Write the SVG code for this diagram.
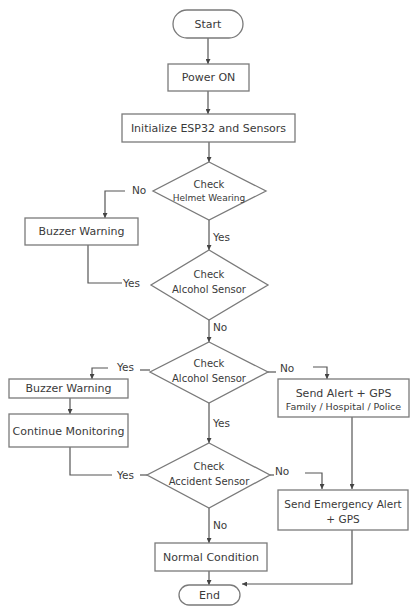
<svg xmlns="http://www.w3.org/2000/svg" width="417" height="606" viewBox="0 0 417 606">
<style>
.box{fill:#fff;stroke:#7a7a7a;stroke-width:1.3}
.t{font-family:"DejaVu Sans",Verdana,sans-serif;fill:#3a3a3a;text-anchor:middle;dominant-baseline:central}
.m{font-size:11px}
.e{font-size:10.5px}
.d{font-size:10px}
.s{font-size:9px}
.f{font-size:9.5px}
.lbl{font-family:"DejaVu Sans",Verdana,sans-serif;fill:#3a3a3a;font-size:10.5px;dominant-baseline:central}
.ln{fill:none;stroke:#555;stroke-width:1.2}
</style>
<defs>
<marker id="ah" viewBox="0 0 6 6" refX="6" refY="3" markerWidth="5" markerHeight="5" markerUnits="userSpaceOnUse" orient="auto">
<path d="M0,0 L6,3 L0,6 z" fill="#444"/>
</marker>
</defs>
<rect width="417" height="606" fill="#fff"/>
<g id="connectors">
<path class="ln" d="M208,38 V64" marker-end="url(#ah)"/>
<path class="ln" d="M208,91 V114" marker-end="url(#ah)"/>
<path class="ln" d="M209,142 V162" marker-end="url(#ah)"/>
<path class="ln" d="M125,191 H105 V218" marker-end="url(#ah)"/>
<path class="ln" d="M209,220 V250" marker-end="url(#ah)"/>
<path class="ln" d="M88,245 V283 H122"/>
<path class="ln" d="M209,320 V342" marker-end="url(#ah)"/>
<path class="ln" d="M140,370 H150"/>
<path class="ln" d="M108,368 H92 V379" marker-end="url(#ah)"/>
<path class="ln" d="M268,372 H276"/>
<path class="ln" d="M313,367 H327 V379" marker-end="url(#ah)"/>
<path class="ln" d="M70,398 V414" marker-end="url(#ah)"/>
<path class="ln" d="M209,403 V443" marker-end="url(#ah)"/>
<path class="ln" d="M70,447 V475 H112"/>
<path class="ln" d="M140,475 H147"/>
<path class="ln" d="M270,475 H274"/>
<path class="ln" d="M305,473 H322 V489" marker-end="url(#ah)"/>
<path class="ln" d="M352,417 V489" marker-end="url(#ah)"/>
<path class="ln" d="M209,508 V543" marker-end="url(#ah)"/>
<path class="ln" d="M209,571 V585" marker-end="url(#ah)"/>
<path class="ln" d="M352,530 V584 H242" marker-end="url(#ah)"/>
</g>
<g id="labels">
<text class="lbl" x="132" y="190">No</text>
<text class="lbl" x="213" y="237">Yes</text>
<text class="lbl" x="123" y="283">Yes</text>
<text class="lbl" x="213" y="327">No</text>
<text class="lbl" x="117" y="367">Yes</text>
<text class="lbl" x="280" y="368">No</text>
<text class="lbl" x="213" y="423">Yes</text>
<text class="lbl" x="117" y="475">Yes</text>
<text class="lbl" x="275" y="471">No</text>
<text class="lbl" x="213" y="525">No</text>
</g>
<g id="start">
<rect class="box" x="173" y="10" width="70" height="28" rx="14"/>
<text class="t m" x="208" y="24">Start</text>
</g>
<g id="power">
<rect class="box" x="168" y="64" width="81" height="27"/>
<text class="t m" x="208.5" y="77.5">Power ON</text>
</g>
<g id="init">
<rect class="box" x="122" y="114" width="173" height="28"/>
<text class="t m" x="208.5" y="128">Initialize ESP32 and Sensors</text>
</g>
<g id="helmet">
<polygon class="box" points="209,162 266,191 209,220 153,191"/>
<text class="t d" x="209" y="184">Check</text>
<text class="t s" x="209" y="198">Helmet Wearing</text>
</g>
<g id="buzzer1">
<rect class="box" x="25" y="218" width="113" height="27"/>
<text class="t m" x="81.5" y="231.5">Buzzer Warning</text>
</g>
<g id="alcohol1">
<polygon class="box" points="209,250 268,285 209,320 151,285"/>
<text class="t d" x="209" y="274">Check</text>
<text class="t d" x="209" y="289">Alcohol Sensor</text>
</g>
<g id="alcohol2">
<polygon class="box" points="209,342 268,372 209,403 150,372"/>
<text class="t d" x="209" y="363">Check</text>
<text class="t d" x="209" y="378">Alcohol Sensor</text>
</g>
<g id="buzzer2">
<rect class="box" x="9" y="379" width="119" height="19"/>
<text class="t m" x="68.5" y="388.5">Buzzer Warning</text>
</g>
<g id="monitor">
<rect class="box" x="9" y="414" width="119" height="33"/>
<text class="t m" x="68.5" y="431">Continue Monitoring</text>
</g>
<g id="sendalert">
<rect class="box" x="278" y="379" width="131" height="38"/>
<text class="t m" x="343.5" y="393">Send Alert + GPS</text>
<text class="t f" x="343.5" y="406">Family / Hospital / Police</text>
</g>
<g id="accident">
<polygon class="box" points="209,443 270,475 209,508 147,475"/>
<text class="t d" x="209" y="466">Check</text>
<text class="t d" x="209" y="481">Accident Sensor</text>
</g>
<g id="emergency">
<rect class="box" x="278" y="490" width="130" height="40"/>
<text class="t e" x="343" y="504">Send Emergency Alert</text>
<text class="t e" x="343" y="519">+ GPS</text>
</g>
<g id="normal">
<rect class="box" x="155" y="543" width="112" height="28"/>
<text class="t m" x="211" y="557">Normal Condition</text>
</g>
<g id="end">
<rect class="box" x="179" y="585" width="61" height="20" rx="10"/>
<text class="t m" x="209.5" y="595">End</text>
</g>
</svg>
